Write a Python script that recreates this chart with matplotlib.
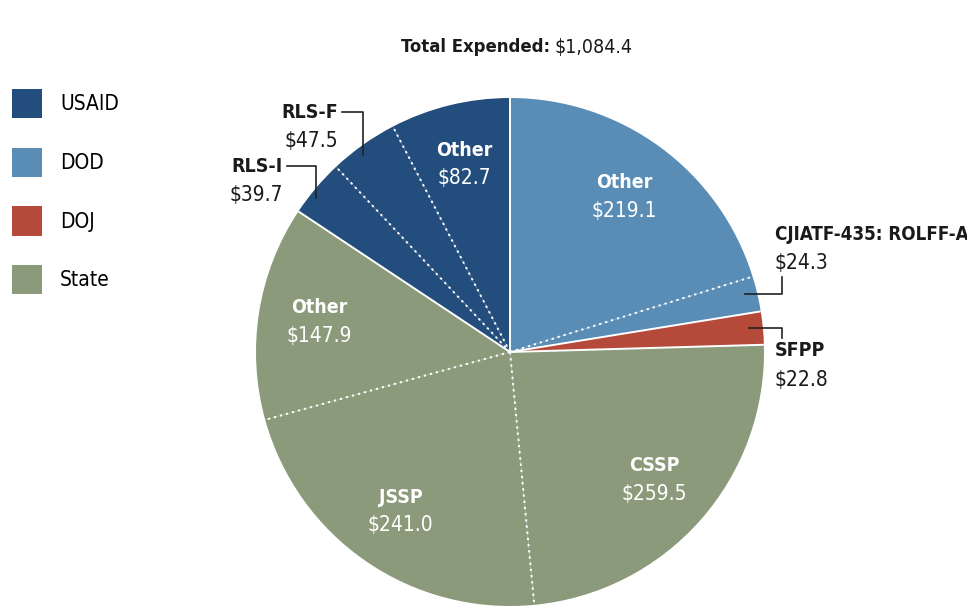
import numpy as np
import matplotlib
matplotlib.use("Agg")
import matplotlib.pyplot as plt
from matplotlib.patches import Patch

# slices, clockwise from 12 o'clock
names = ["Other", "CJIATF-435: ROLFF-A", "SFPP", "CSSP", "JSSP", "Other", "RLS-I", "RLS-F", "Other"]
values = [219.1, 24.3, 22.8, 259.5, 241.0, 147.9, 39.7, 47.5, 82.7]
agency = ["DOD", "DOD", "DOJ", "State", "State", "State", "USAID", "USAID", "USAID"]
total_label = "$1,084.4"

agencies = ["USAID", "DOD", "DOJ", "State"]
colors = {"USAID": "#234d7c", "DOD": "#5a8db6", "DOJ": "#b54a3a", "State": "#8a9a7a"}

FONT = dict(family="DejaVu Sans", stretch="condensed")
FS = 15     # regular text
FB = 14     # bold text
W, H = 967, 606
cx, cy, R = 510, H - 352, 254


def py(y):
    return H - y


def main():
    fig = plt.figure(figsize=(W / 100, H / 100), dpi=100)
    ax = fig.add_axes([0, 0, 1, 1])

    ax.pie(values, colors=[colors[a] for a in agency], startangle=90,
           counterclock=False, radius=R, center=(cx, cy),
           wedgeprops=dict(linewidth=0))
    ax.set_xlim(0, W)
    ax.set_ylim(0, H)
    ax.set_aspect("equal")
    ax.axis("off")

    total = sum(values)
    cum = np.concatenate([[0], np.cumsum(values)])
    start = 90 - 360 * cum / total          # boundary angles
    mid = 90 - 360 * (cum[:-1] + np.array(values) / 2) / total

    # dividers: solid between agencies, dotted inside one agency
    for i in range(len(values)):
        a = np.radians(start[i])
        same = agency[i] == agency[i - 1]
        ax.plot([cx, cx + R * np.cos(a)], [cy, cy + R * np.sin(a)], color="white",
                lw=1.4, linestyle=(0, (1.2, 2)) if same else "-", solid_capstyle="butt")

    # labels inside the slices
    for i in [0, 3, 4, 5, 8]:
        a = np.radians(mid[i])
        x = cx + 0.76 * R * np.cos(a)
        y = cy + 0.76 * R * np.sin(a)
        ax.text(x, y + 14, names[i], color="white", fontsize=FB, fontweight="bold",
                ha="center", va="center", **FONT)
        ax.text(x, y - 14, f"${values[i]:.1f}", color="white", fontsize=FS,
                ha="center", va="center", **FONT)

    def edge(i):
        a = np.radians(mid[i])
        return cx + R * np.cos(a), cy + R * np.sin(a)

    ink = "#1a1a1a"
    lk = dict(color="#222222", lw=1.2)
    # RLS-F and RLS-I: labels top-left, leader goes right then down
    for i, (tx, ty) in [(7, (338, 112)), (6, (283, 166))]:
        ex, ey = edge(i)
        ax.text(tx, py(ty), names[i], fontsize=FB, fontweight="bold", ha="right",
                va="center", color=ink, **FONT)
        ax.text(tx, py(ty + 29), f"${values[i]:.1f}", fontsize=FS, ha="right",
                va="center", color=ink, **FONT)
        ax.plot([tx + 4, ex, ex], [py(ty), py(ty), ey - 10], **lk)

    # CJIATF: label above right, leader right then up
    ex, ey = edge(1)
    ax.text(775, py(234), names[1], fontsize=13.5, fontweight="bold", ha="left",
            va="center", color=ink, **FONT)
    ax.text(775, py(263), f"${values[1]:.1f}", fontsize=FS, ha="left",
            va="center", color=ink, **FONT)
    ax.plot([ex - 12, 782, 782], [ey, ey, py(277)], **lk)

    # SFPP: label below right, leader right then down
    ex, ey = edge(2)
    ax.text(775, py(351), names[2], fontsize=FB, fontweight="bold", ha="left",
            va="center", color=ink, **FONT)
    ax.text(775, py(380), f"${values[2]:.1f}", fontsize=FS, ha="left",
            va="center", color=ink, **FONT)
    ax.plot([ex - 14, 782, 782], [ey, ey, py(338)], **lk)

    # title
    ax.text(550, py(47), "Total Expended:", fontsize=13.2, fontweight="bold",
            ha="right", va="center", color=ink, **FONT)
    ax.text(554, py(47), total_label, fontsize=14, ha="left", va="center",
            color=ink, **FONT)

    handles = [Patch(facecolor=colors[a], edgecolor="none", label=a) for a in agencies]
    ax.legend(handles=handles, loc="upper left", bbox_to_anchor=(12 / W, 1 - 89 / H),
              frameon=False, borderaxespad=0, borderpad=0, handlelength=1.45,
              handleheight=1.8, labelspacing=1.4, handletextpad=0.85,
              prop=dict(size=FS, **FONT))

    fig.savefig("out.png", dpi=100)


if __name__ == "__main__":
    main()
